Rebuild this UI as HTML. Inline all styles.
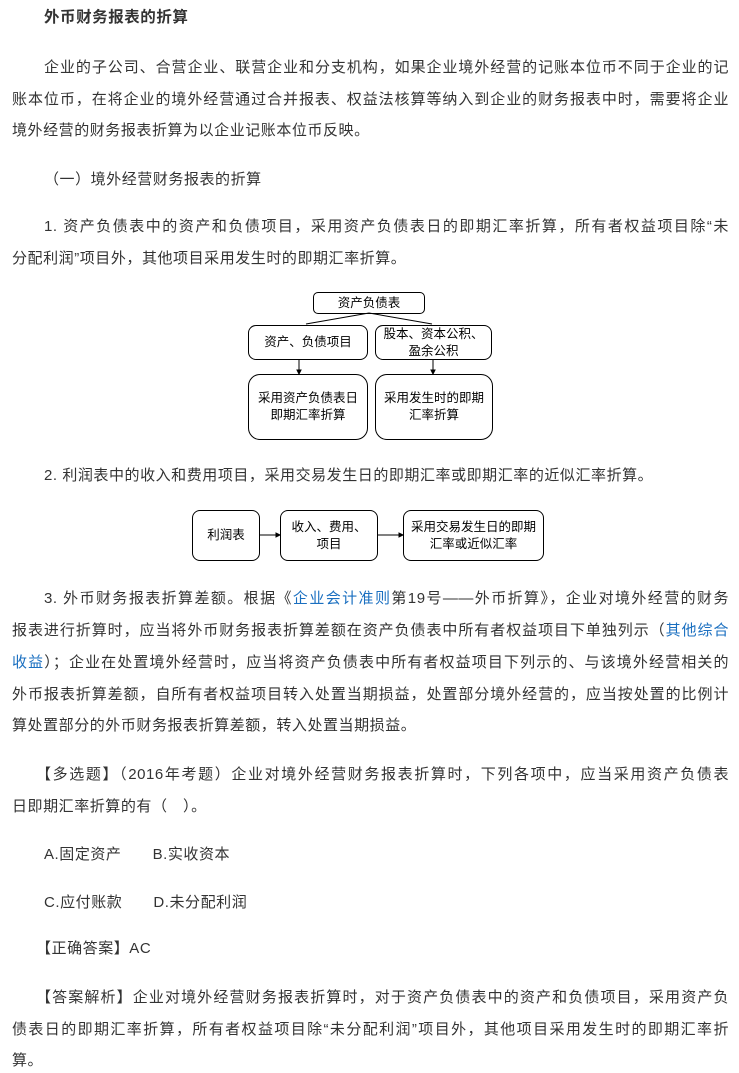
<!DOCTYPE html>
<html><head><meta charset="utf-8"><style>
body{margin:0;width:739px;height:1071px;background:#fff;position:relative;overflow:hidden;font-family:"Liberation Sans","Noto Sans CJK SC",sans-serif;color:#333;font-size:15px;letter-spacing:0.55px}
.l{position:absolute;left:12px;width:717px;white-space:nowrap;line-height:24px}
.j{text-align:justify;text-align-last:justify;white-space:normal}
.i{left:44px;width:685px}
a{color:#1a6fc0;text-decoration:none}
.b{position:absolute;border:1px solid #000;border-radius:8px;box-sizing:border-box;display:flex;align-items:center;justify-content:center;text-align:center;font-size:12.5px;line-height:17px;color:#000;letter-spacing:0}
</style></head><body>
<div class="l i" style="top:6px;font-weight:bold;font-size:15.5px">外币财务报表的折算</div>
<div class="l i j" style="top:56px">企业的子公司、合营企业、联营企业和分支机构，如果企业境外经营的记账本位币不同于企业的记</div>
<div class="l j" style="top:88px">账本位币，在将企业的境外经营通过合并报表、权益法核算等纳入到企业的财务报表中时，需要将企业</div>
<div class="l" style="top:119px">境外经营的财务报表折算为以企业记账本位币反映。</div>
<div class="l i" style="top:168px">（一）境外经营财务报表的折算</div>
<div class="l i j" style="top:215px">1. 资产负债表中的资产和负债项目，采用资产负债表日的即期汇率折算，所有者权益项目除“未</div>
<div class="l" style="top:247px">分配利润”项目外，其他项目采用发生时的即期汇率折算。</div>

<svg style="position:absolute;left:0;top:0" width="739" height="600">
<g stroke="#000" fill="#000" stroke-width="1">
<line x1="369" y1="313" x2="306" y2="324"/><line x1="369" y1="313" x2="432" y2="324"/>
<line x1="299" y1="359" x2="299" y2="372"/><line x1="433" y1="359" x2="433" y2="372"/>
<line x1="260" y1="535" x2="278" y2="535"/><line x1="378" y1="535" x2="401" y2="535"/>
<polygon points="299,374 297,370 301,370"/><polygon points="433,374 431,370 435,370"/>
<polygon points="280,535 276,533 276,537"/><polygon points="403,535 399,533 399,537"/>
</g></svg>
<div class="b" style="left:313px;top:292px;width:112px;height:22px;border-radius:5px">资产负债表</div>
<div class="b" style="left:248px;top:325px;width:120px;height:35px">资产、负债项目</div>
<div class="b" style="left:375px;top:325px;width:117px;height:35px">股本、资本公积、<br>盈余公积</div>
<div class="b" style="left:248px;top:374px;width:120px;height:66px;border-radius:12px">采用资产负债表日<br>即期汇率折算</div>
<div class="b" style="left:375px;top:374px;width:118px;height:66px;border-radius:12px">采用发生时的即期<br>汇率折算</div>

<div class="l i" style="top:464px">2. 利润表中的收入和费用项目，采用交易发生日的即期汇率或即期汇率的近似汇率折算。</div>
<div class="b" style="left:192px;top:510px;width:68px;height:51px">利润表</div>
<div class="b" style="left:280px;top:510px;width:98px;height:51px">收入、费用、<br>项目</div>
<div class="b" style="left:403px;top:510px;width:141px;height:51px">采用交易发生日的即期<br>汇率或近似汇率</div>

<div class="l i j" style="top:587px">3. 外币财务报表折算差额。根据《<a>企业会计准则</a>第19号——外币折算》，企业对境外经营的财务</div>
<div class="l j" style="top:619px">报表进行折算时，应当将外币财务报表折算差额在资产负债表中所有者权益项目下单独列示（<a>其他综合</a></div>
<div class="l j" style="top:651px"><a>收益</a>）；企业在处置境外经营时，应当将资产负债表中所有者权益项目下列示的、与该境外经营相关的</div>
<div class="l j" style="top:683px">外币报表折算差额，自所有者权益项目转入处置当期损益，处置部分境外经营的，应当按处置的比例计</div>
<div class="l" style="top:714px">算处置部分的外币财务报表折算差额，转入处置当期损益。</div>
<div class="l i j" style="top:763px;left:36px;width:693px">【多选题】（2016年考题）企业对境外经营财务报表折算时，下列各项中，应当采用资产负债表</div>
<div class="l" style="top:795px">日即期汇率折算的有（　）。</div>
<div class="l i" style="top:843px">A.固定资产　　B.实收资本</div>
<div class="l i" style="top:891px">C.应付账款　　D.未分配利润</div>
<div class="l i" style="top:937px;left:36px">【正确答案】AC</div>
<div class="l i j" style="top:986px;left:36px;width:693px">【答案解析】企业对境外经营财务报表折算时，对于资产负债表中的资产和负债项目，采用资产负</div>
<div class="l j" style="top:1018px">债表日的即期汇率折算，所有者权益项目除“未分配利润”项目外，其他项目采用发生时的即期汇率折</div>
<div class="l" style="top:1049px">算。</div>
</body></html>
